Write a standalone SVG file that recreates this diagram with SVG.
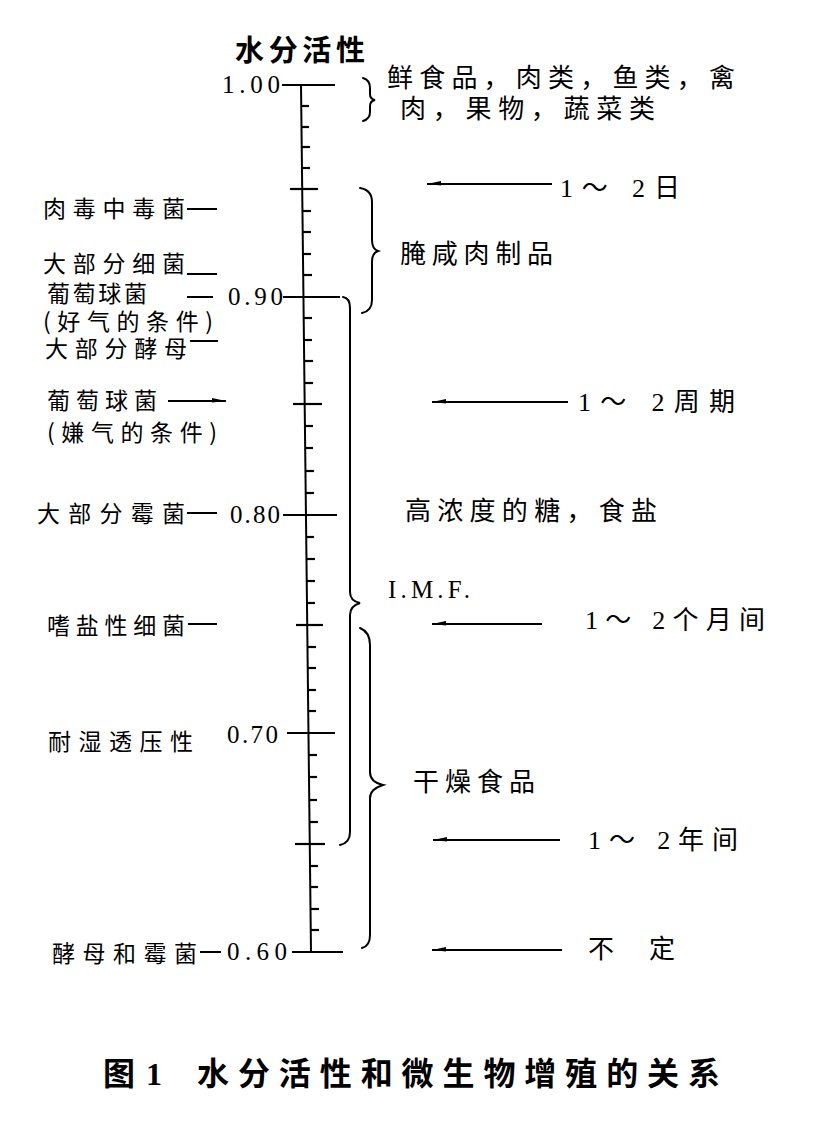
<svg xmlns="http://www.w3.org/2000/svg" width="821" height="1125" viewBox="0 0 821 1125">
<defs>
<style>
.cjk{font-family:"Noto Sans CJK SC","Noto Sans",sans-serif;fill:#000;}
.lbl{font-size:23px;}
.rt{font-size:26px;}
.num{font-family:"Liberation Serif","Noto Sans CJK SC",serif;font-size:25px;fill:#000;}
.rng{font-family:"Liberation Serif","Noto Sans CJK SC",serif;font-size:26px;fill:#000;}
.ln{stroke:#000;stroke-width:2;fill:none;}
.tk{stroke:#000;stroke-width:2.2;fill:none;}
.br{stroke:#000;stroke-width:2;fill:none;stroke-linecap:round;}
.cap{font-family:"Noto Sans CJK SC",sans-serif;font-size:32px;font-weight:bold;fill:#000;}
.capn{font-family:"Liberation Serif",serif;font-size:32px;font-weight:bold;fill:#000;}
</style>
<marker id="ahL" markerWidth="16" markerHeight="8" refX="0" refY="4" orient="0" markerUnits="userSpaceOnUse"><path d="M0,4 L14,1 L14,5.5 Z" fill="#000"/></marker>
<marker id="ahR" markerWidth="16" markerHeight="8" refX="14" refY="4" orient="0" markerUnits="userSpaceOnUse"><path d="M14,4 L0,1 L0,5.5 Z" fill="#000"/></marker>
</defs>
<rect width="821" height="1125" fill="#fff"/>

<g id="axis">
<line class="ln" x1="301" y1="85" x2="311" y2="952"/>
<g class="tk">
<line x1="282" y1="85" x2="335" y2="85"/>
<line x1="290" y1="189" x2="318" y2="189"/>
<line x1="283" y1="297" x2="340" y2="297"/>
<line x1="293" y1="404" x2="322" y2="404"/>
<line x1="283" y1="515" x2="337" y2="515"/>
<line x1="296" y1="625" x2="323" y2="625"/>
<line x1="287" y1="733" x2="335" y2="733"/>
<line x1="295" y1="844" x2="325" y2="844"/>
<line x1="292" y1="952" x2="343" y2="952"/>
</g>
<g class="tk">
<line x1="301" y1="106" x2="309" y2="106"/>
<line x1="301" y1="127" x2="309" y2="127"/>
<line x1="302" y1="147" x2="310" y2="147"/>
<line x1="302" y1="168" x2="310" y2="168"/>
<line x1="303" y1="211" x2="311" y2="211"/>
<line x1="303" y1="232" x2="311" y2="232"/>
<line x1="303" y1="254" x2="311" y2="254"/>
<line x1="304" y1="275" x2="312" y2="275"/>
<line x1="304" y1="318" x2="312" y2="318"/>
<line x1="304" y1="340" x2="312" y2="340"/>
<line x1="305" y1="361" x2="313" y2="361"/>
<line x1="305" y1="383" x2="313" y2="383"/>
<line x1="305" y1="426" x2="313" y2="426"/>
<line x1="305" y1="448" x2="313" y2="448"/>
<line x1="306" y1="471" x2="314" y2="471"/>
<line x1="306" y1="493" x2="314" y2="493"/>
<line x1="306" y1="537" x2="314" y2="537"/>
<line x1="307" y1="559" x2="315" y2="559"/>
<line x1="307" y1="581" x2="315" y2="581"/>
<line x1="307" y1="603" x2="315" y2="603"/>
<line x1="308" y1="647" x2="316" y2="647"/>
<line x1="308" y1="668" x2="316" y2="668"/>
<line x1="308" y1="690" x2="316" y2="690"/>
<line x1="308" y1="711" x2="316" y2="711"/>
<line x1="309" y1="755" x2="317" y2="755"/>
<line x1="309" y1="777" x2="317" y2="777"/>
<line x1="309" y1="800" x2="317" y2="800"/>
<line x1="310" y1="822" x2="318" y2="822"/>
<line x1="310" y1="866" x2="318" y2="866"/>
<line x1="310" y1="887" x2="318" y2="887"/>
<line x1="311" y1="909" x2="319" y2="909"/>
<line x1="311" y1="930" x2="319" y2="930"/>
</g>
<text class="cjk" x="235" y="61" font-size="29" font-weight="bold" textLength="130" lengthAdjust="spacing">水分活性</text>
<text class="num" x="222" y="93" textLength="58" lengthAdjust="spacing">1.00</text>
<text class="num" x="228" y="305" textLength="55" lengthAdjust="spacing">0.90</text>
<text class="num" x="230" y="523" textLength="50" lengthAdjust="spacing">0.80</text>
<text class="num" x="227" y="743" textLength="51" lengthAdjust="spacing">0.70</text>
<text class="num" x="227" y="960" textLength="60" lengthAdjust="spacing">0.60</text>
</g>

<g id="left-labels">
<g id="n-rdzdj"><text class="cjk lbl" x="43" y="217" textLength="142" lengthAdjust="spacing">肉毒中毒菌</text><line class="ln" x1="187" y1="209" x2="217" y2="209"/></g>
<g id="n-dbfxj"><text class="cjk lbl" x="43" y="272" textLength="142" lengthAdjust="spacing">大部分细菌</text><line class="ln" x1="187" y1="274" x2="217" y2="274"/></g>
<g id="n-ptqj1"><text class="cjk lbl" x="47" y="302" textLength="100" lengthAdjust="spacing">葡萄球菌</text><text class="cjk lbl" x="43" y="330" textLength="170" lengthAdjust="spacing">(好气的条件)</text><line class="ln" x1="187" y1="297" x2="213" y2="297"/></g>
<g id="n-dbfjm"><text class="cjk lbl" x="45" y="357" textLength="142" lengthAdjust="spacing">大部分酵母</text><line class="ln" x1="190" y1="341" x2="218" y2="341"/></g>
<g id="n-ptqj2"><text class="cjk lbl" x="47" y="409" textLength="110" lengthAdjust="spacing">葡萄球菌</text><text class="cjk lbl" x="47" y="441" textLength="170" lengthAdjust="spacing">(嫌气的条件)</text></g>
<g id="n-dbfmj"><text class="cjk lbl" x="37" y="522" textLength="148" lengthAdjust="spacing">大部分霉菌</text><line class="ln" x1="187" y1="513" x2="217" y2="513"/></g>
<g id="n-sxxj"><text class="cjk lbl" x="47" y="634" textLength="138" lengthAdjust="spacing">嗜盐性细菌</text><line class="ln" x1="188" y1="624" x2="217" y2="624"/></g>
<g id="n-nstyx"><text class="cjk lbl" x="48" y="750" textLength="145" lengthAdjust="spacing">耐湿透压性</text></g>
<g id="n-jmhmj"><text class="cjk lbl" x="52" y="962" textLength="145" lengthAdjust="spacing">酵母和霉菌</text><line class="ln" x1="200" y1="952" x2="221" y2="952"/></g>
</g>

<g id="braces">
<path class="br" d="M363,78 Q370,80 370,88 L370,94 Q370,99 375,100 Q370,101 370,106 L370,112 Q370,119 363,121"/>
<path class="br" d="M360,188 Q372,190 372,202 L372,240 Q372,249 378,251 Q372,253 372,262 L372,300 Q372,311 362,313"/>
<path class="br" d="M343,297 Q350,298 350,308 L350,592 Q350,601 360,603 Q350,606 350,615 L350,832 Q350,843 340,845"/>
<path class="br" d="M360,628 Q370,632 370,645 L370,772 Q370,782 383,785 Q370,789 370,798 L370,935 Q370,946 362,948"/>
</g>

<g id="right-labels">
<g id="n-fresh"><text class="cjk rt" x="387" y="87" textLength="348" lengthAdjust="spacing">鲜食品，肉类，鱼类，禽</text><text class="cjk rt" x="400" y="118" textLength="255" lengthAdjust="spacing">肉，果物，蔬菜类</text></g>
<g id="n-cured"><text class="cjk rt" x="400" y="263" textLength="153" lengthAdjust="spacing">腌咸肉制品</text></g>
<g id="n-sugar"><text class="cjk rt" x="405" y="520" textLength="252" lengthAdjust="spacing">高浓度的糖，食盐</text></g>
<g id="n-imf"><text class="num" x="388" y="598" font-size="22" textLength="82" lengthAdjust="spacing">I.M.F.</text></g>
<g id="n-dry"><text class="cjk rt" x="413" y="791" textLength="122" lengthAdjust="spacing">干燥食品</text></g>
<g id="n-r1"><text class="rng" x="560" y="197" textLength="120" lengthAdjust="spacing">1～ 2日</text></g>
<g id="n-r2"><text class="rng" x="578" y="411" textLength="157" lengthAdjust="spacing">1～ 2周期</text></g>
<g id="n-r3"><text class="rng" x="585" y="629" textLength="180" lengthAdjust="spacing">1～ 2个月间</text></g>
<g id="n-r4"><text class="rng" x="588" y="849" textLength="150" lengthAdjust="spacing">1～ 2年间</text></g>
<g id="n-r5"><text class="cjk rt" x="588" y="958" textLength="87" lengthAdjust="spacing">不 定</text></g>
</g>

<g id="connectors">
<line class="ln" x1="168" y1="401" x2="226" y2="401" marker-end="url(#ahR)"/>
<line class="ln" x1="427" y1="184" x2="552" y2="184" marker-start="url(#ahL)"/>
<line class="ln" x1="432" y1="402" x2="568" y2="402" marker-start="url(#ahL)"/>
<line class="ln" x1="432" y1="624" x2="542" y2="624" marker-start="url(#ahL)"/>
<line class="ln" x1="433" y1="840" x2="560" y2="840" marker-start="url(#ahL)"/>
<line class="ln" x1="432" y1="950" x2="562" y2="950" marker-start="url(#ahL)"/>
</g>

<g id="caption">
<text class="cap" x="103" y="1085">图</text>
<text class="capn" x="146" y="1085">1</text>
<text class="cap" x="197" y="1085" textLength="523" lengthAdjust="spacing">水分活性和微生物增殖的关系</text>
</g>
</svg>
